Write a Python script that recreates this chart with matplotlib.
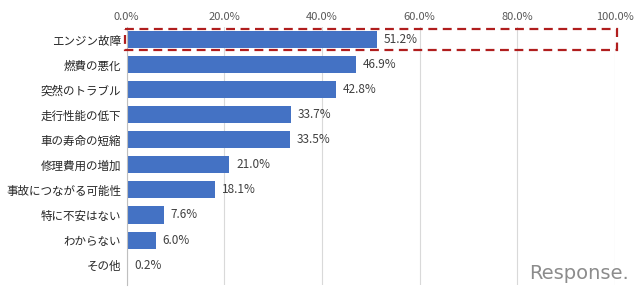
import matplotlib
matplotlib.use("Agg")
import matplotlib.pyplot as plt
from matplotlib.patches import Rectangle

plt.rcParams['font.family'] = ['Noto Sans CJK JP', 'DejaVu Sans']

categories = ["エンジン故障", "燃費の悪化", "突然のトラブル", "走行性能の低下", "車の寿命の短縮",
              "修理費用の増加", "事故につながる可能性", "特に不安はない", "わからない", "その他"]
values = [51.2, 46.9, 42.8, 33.7, 33.5, 21.0, 18.1, 7.6, 6.0, 0.2]
ticks = [0, 20, 40, 60, 80, 100]

fig = plt.figure(figsize=(6.4, 2.93), dpi=100)
ax = fig.add_axes([0.198, 0.027, 0.763, 0.88])

pos = list(range(len(categories)))
ax.barh(pos, values, height=0.68, color='#4472C4', zorder=2)
for p, v in zip(pos, values):
    ax.text(v + 1.4, p, "{:.1f}%".format(v), va='center', ha='left',
            fontsize=8.5, color='#404040')

ax.set_xlim(0, 100)
ax.set_ylim(9.8, -0.5)
ax.set_yticks(pos)
ax.set_yticklabels(categories, fontsize=8.3, color='#262626')
ax.set_xticks(ticks)
ax.set_xticklabels(["{:.1f}%".format(t) for t in ticks], fontsize=8, color='#595959')
ax.xaxis.tick_top()
ax.tick_params(axis='both', length=0, pad=4)
ax.grid(axis='x', color='#d9d9d9', linewidth=0.8, zorder=0)
for s in ['top', 'right', 'bottom']:
    ax.spines[s].set_visible(False)
ax.spines['left'].set_color('#bfbfbf')

# highlight box around the first row
rect = Rectangle((-0.3, -0.42), 100.6, 0.84, fill=False, edgecolor='#B01E1E',
                 linestyle=(0, (4, 2.5)), linewidth=1.6, clip_on=False, zorder=3)
ax.add_patch(rect)

fig.text(0.983, 0.035, "Response.", ha='right', va='bottom', fontsize=14,
         color='#8c8c8c', family='DejaVu Sans')

fig.savefig("out.png", dpi=100)
